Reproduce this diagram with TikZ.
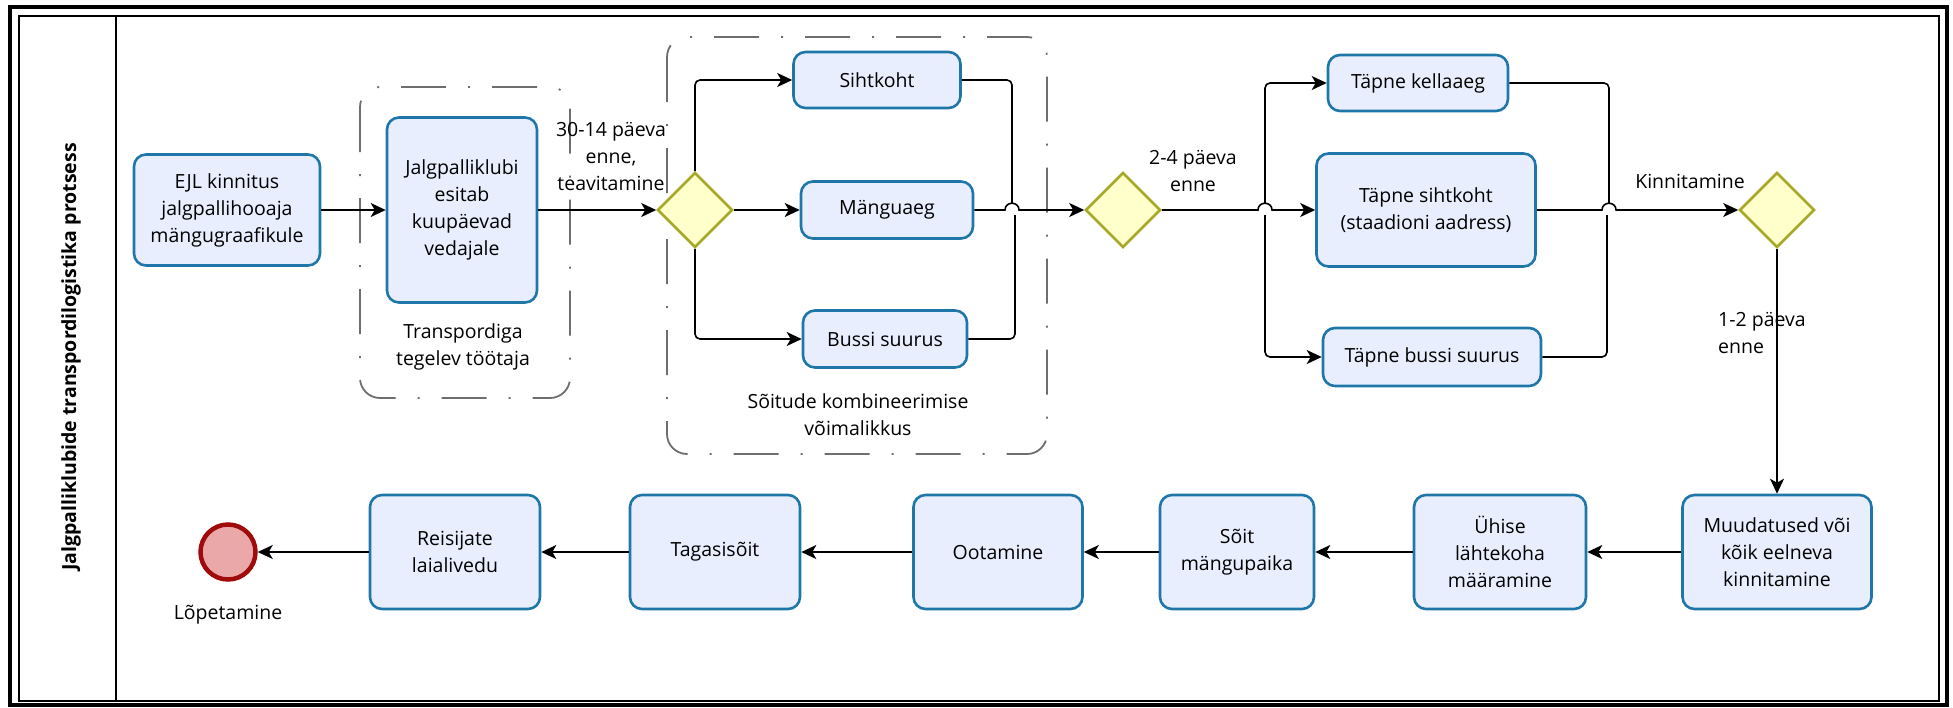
\documentclass[tikz,border=0pt]{standalone}
\usepackage{fontspec}
\setmainfont{Open Sans}
\usetikzlibrary{shapes.geometric,arrows.meta}

\definecolor{taskfill}{HTML}{E8EEFD}
\definecolor{taskborder}{HTML}{1E76A9}
\definecolor{gatefill}{HTML}{FFFFCC}
\definecolor{gateborder}{HTML}{A8A828}
\definecolor{endfill}{HTML}{EBA8A8}
\definecolor{endborder}{HTML}{A00A0A}
\definecolor{groupgray}{HTML}{6E6E6E}

\newcommand\txtfont{\fontsize{19.5}{27}\selectfont}

\tikzset{
  task/.style={draw=taskborder, fill=taskfill, line width=2.6pt, rounded corners=12pt,
    align=center, inner sep=0pt, font=\txtfont, minimum height=114pt},
  gate/.style={diamond, draw=gateborder, fill=gatefill, line width=2.6pt,
    minimum width=75pt, minimum height=75pt, inner sep=0pt},
  endev/.style={circle, draw=endborder, fill=endfill, line width=4.5pt,
    minimum size=55pt, inner sep=0pt},
  flow/.style={line width=1.6pt, draw=black, -{Stealth[length=15pt,width=14pt,inset=4pt]}},
  link/.style={line width=1.6pt, draw=black},
  group/.style={draw=groupgray, line width=1.8pt, rounded corners=20pt,
    dash pattern=on 45pt off 22pt on 2pt off 22pt},
  note/.style={font=\txtfont, align=center, inner sep=0pt},
}

\begin{document}
\begin{tikzpicture}[x=1pt,y=-1pt]
\useasboundingbox (0,0) rectangle (1953,707);

% pool frame and lane header
\draw[line width=4pt] (10,7) rectangle (1947,705);
\draw[line width=1.5pt] (19,16) rectangle (1939,701);
\draw[line width=1.5pt] (116,16) -- (116,701);
\node[rotate=90, font=\bfseries\fontsize{19.5}{22}\selectfont] (lane) at (71,357)
  {Jalgpalliklubide transpordilogistika protsess};

% groups
\draw[group] (360,87) rectangle (570,398);
\draw[group] (667,37) rectangle (1047,454);
\node[note] (grp1) at (463,347) {Transpordiga\\tegelev töötaja};
\node[note] (grp2) at (858,415) {Sõitude kombineerimise\\võimalikkus};

% upper row
\node[task, minimum width=186pt, minimum height=111pt] (ejl) at (227,210)
  {EJL kinnitus\\jalgpallihooaja\\mängugraafikule};
\node[task, minimum width=150pt, minimum height=185pt] (klubi) at (462,210)
  {Jalgpalliklubi\\esitab\\kuupäevad\\vedajale};
\node[gate] (g1) at (695,210) {};
\node[task, minimum width=167pt, minimum height=56pt] (siht) at (877,80) {Sihtkoht};
\node[task, minimum width=172pt, minimum height=57pt] (aeg) at (887,210) {Mänguaeg};
\node[task, minimum width=164pt, minimum height=57pt] (buss) at (885,339) {Bussi suurus};
\node[gate] (g2) at (1123,210) {};
\node[task, minimum width=180pt, minimum height=56pt] (kell) at (1418,83) {Täpne kellaaeg};
\node[task, minimum width=219pt, minimum height=113pt] (tsiht) at (1426,210)
  {Täpne sihtkoht\\(staadioni aadress)};
\node[task, minimum width=218pt, minimum height=58pt] (tbuss) at (1432,357) {Täpne bussi suurus};
\node[gate] (g3) at (1777,210) {};

% lower row
\node[task, minimum width=189pt] (muud) at (1777,552) {Muudatused või\\kõik eelneva\\kinnitamine};
\node[task, minimum width=172pt] (uhise) at (1500,552) {Ühise\\lähtekoha\\määramine};
\node[task, minimum width=154pt] (soit) at (1237,552) {Sõit\\mängupaika};
\node[task, minimum width=169pt] (oota) at (998,552) {Ootamine};
\node[task, minimum width=170pt] (taga) at (715,552) {Tagasisõit};
\node[task, minimum width=170pt] (reis) at (455,552) {Reisijate\\laialivedu};
\node[endev] (end) at (228,552) {};

% flow labels
\node[note] (lab1) at (611,156) {30-14 päeva\\enne,\\teavitamine};
\node[note] (lab2) at (1193,171) {2-4 päeva\\enne};
\node[note] (lab3) at (1690,181) {Kinnitamine};
\node[note, align=left, anchor=west] (lab4) at (1718,333) {1-2 päeva\\enne};
\node[note] (lab5) at (228,615) {Lõpetamine};

% crossing points
\coordinate (hop1) at (1012,210);
\coordinate (hop2) at (1265,210);
\coordinate (hop3) at (1609,210);

% connectors
\draw[flow] (ejl) -- (klubi);
\draw[flow] (klubi) -- (g1);
\draw[flow, rounded corners=5pt] (g1.north) |- (siht.west);
\draw[flow] (g1) -- (aeg);
\draw[flow, rounded corners=5pt] (g1.south) |- (buss.west);

\draw[link, rounded corners=5pt] (siht.east) -| ([yshift=7pt]hop1);
\draw[link, rounded corners=5pt] (buss.east) -| ([xshift=3pt,yshift=-5pt]hop1);
\draw[flow] (aeg.east) -- ([xshift=-7pt]hop1) .. controls +(0,-9) and +(0,-9) .. ([xshift=7pt]hop1) -- (g2.west);

\draw[flow] (g2.east) -- ([xshift=-7pt]hop2) .. controls +(0,-9) and +(0,-9) .. ([xshift=7pt]hop2) -- (tsiht.west);
\draw[flow, rounded corners=5pt] ([yshift=7pt]hop2) |- (kell.west);
\draw[flow, rounded corners=5pt] ([yshift=-5pt]hop2) |- (tbuss.west);

\draw[link, rounded corners=5pt] (kell.east) -| ([yshift=7pt]hop3);
\draw[link, rounded corners=5pt] (tbuss.east) -| ([xshift=-2pt,yshift=-5pt]hop3);
\draw[flow] (tsiht.east) -- ([xshift=-7pt]hop3) .. controls +(0,-9) and +(0,-9) .. ([xshift=7pt]hop3) -- (g3.west);

\draw[flow] (g3.south) -- (muud.north);
\draw[flow] (muud) -- (uhise);
\draw[flow] (uhise) -- (soit);
\draw[flow] (soit) -- (oota);
\draw[flow] (oota) -- (taga);
\draw[flow] (taga) -- (reis);
\draw[flow] (reis) -- (end);
\end{tikzpicture}
\end{document}
